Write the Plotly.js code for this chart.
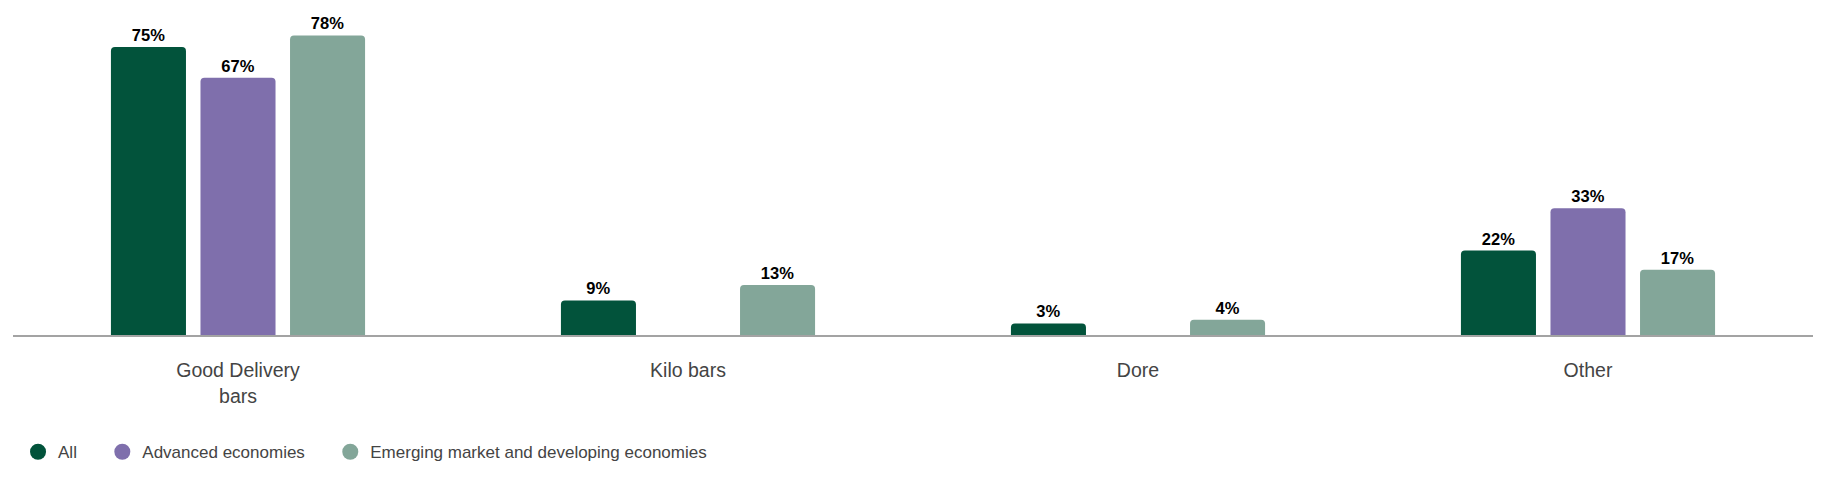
<!DOCTYPE html>
<html><head><meta charset="utf-8">
<script src="https://cdn.plot.ly/plotly-3.0.1.min.js"></script>
<style>body{margin:0;background:#fff}#chart{width:1821px;height:479px}</style>
</head><body><div id="chart"></div>
<script>
const categories = ["Good Delivery<br>bars", "Kilo bars", "Dore", "Other"];
const seriesNames = ["All", "Advanced economies", "Emerging market and developing economies"];
const allValues = [75, 9, 3, 22];
const advancedValues = [67, null, null, 33];
const emergingValues = [78, 13, 4, 17];
const colors = ["#02533B", "#7F6FAC", "#83A699"];

const seriesValues = [allValues, advancedValues, emergingValues];
const traces = [];
seriesValues.forEach((vals, i) => {
  traces.push({
    type: "bar", x: categories, y: vals, name: seriesNames[i],
    marker: {color: colors[i], cornerradius: 4},
    text: vals.map(v => v == null ? "" : v + "%"),
    textposition: "outside", cliponaxis: false,
    textfont: {family: "Liberation Sans, Arial, sans-serif", size: 16.5, color: "#000", weight: "bold"},
    showlegend: false, hoverinfo: "skip"
  });
});
const legendPad = "\u2003\u2009";
seriesNames.forEach((n, i) => {
  traces.push({
    type: "scatter", mode: "markers", x: [null], y: [null], name: n + legendPad,
    marker: {color: colors[i], size: 16, symbol: "circle"}, showlegend: true
  });
});

const layout = {
  width: 1821, height: 479,
  margin: {l: 13, r: 8, t: 20, b: 144},
  paper_bgcolor: "#fff", plot_bgcolor: "#fff",
  barmode: "group", bargap: 0.403, bargroupgap: 0.162,
  font: {family: "Liberation Sans, Arial, sans-serif", color: "#444"},
  xaxis: {
    type: "category", showline: true, linecolor: "#a3a3a3", linewidth: 2,
    showgrid: false, zeroline: false, ticks: "",
    tickfont: {size: 19.5, color: "#444"}, ticklabelstandoff: 17
  },
  yaxis: {range: [0, 82.03], visible: false, showgrid: false, zeroline: false},
  showlegend: true,
  legend: {
    orientation: "h", xref: "container", yref: "container",
    x: 0.0099, xanchor: "left", y: 0.056, yanchor: "middle",
    font: {size: 17, color: "#444", family: "Liberation Sans, Arial, sans-serif"},
    itemwidth: 30, traceorder: "normal", itemsizing: "trace"
  }
};
Plotly.newPlot("chart", traces, layout, {displayModeBar: false, staticPlot: true});
</script></body></html>
